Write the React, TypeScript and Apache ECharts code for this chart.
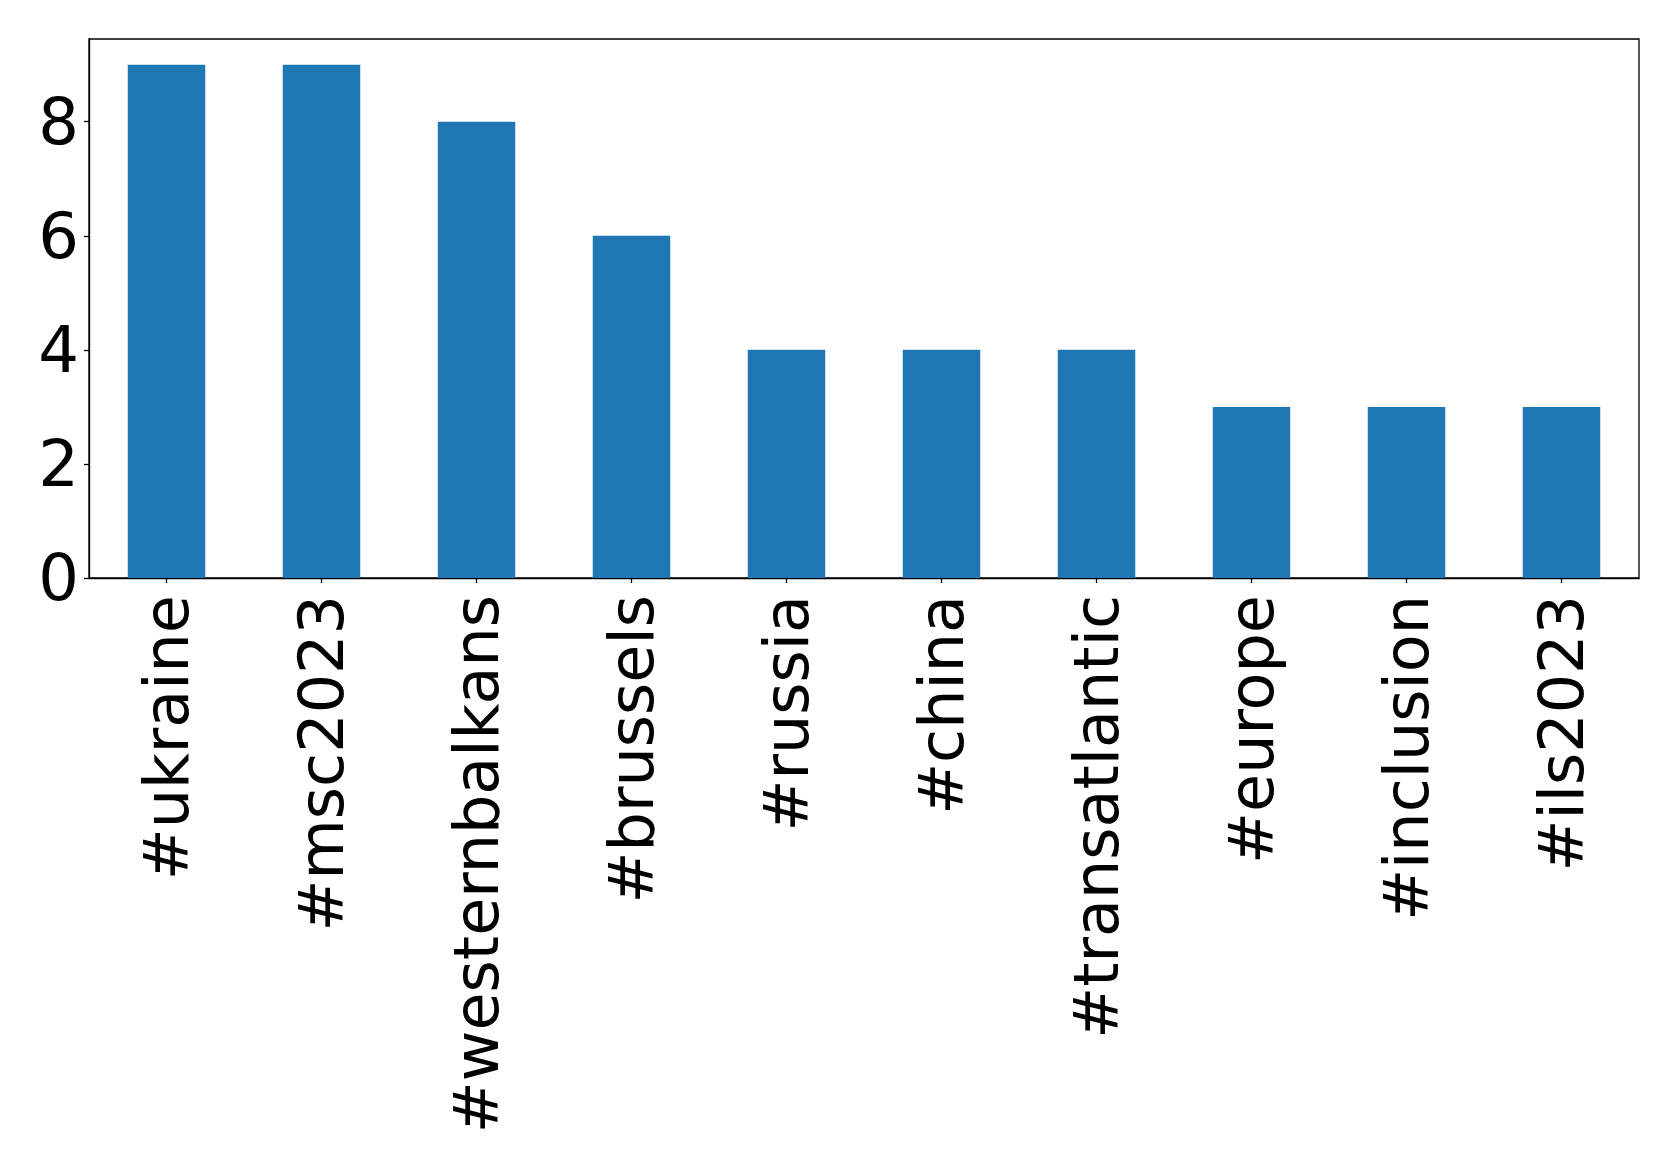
import React, { useEffect, useRef } from "react";
import * as echarts from "echarts";

const categories = [
  "#ukraine",
  "#msc2023",
  "#westernbalkans",
  "#brussels",
  "#russia",
  "#china",
  "#transatlantic",
  "#europe",
  "#inclusion",
  "#ils2023",
];
const counts = [9, 9, 8, 6, 4, 4, 4, 3, 3, 3];
const yTicks = [0, 2, 4, 6, 8];

export default function App() {
  const ref = useRef<HTMLDivElement>(null);
  useEffect(() => {
    document.body.style.margin = "0";
    if (!ref.current) return;
    const chart = echarts.init(ref.current, undefined, { renderer: "svg" });
    const font = "DejaVu Sans";
    chart.setOption({
      animation: false,
      backgroundColor: "#ffffff",
      grid: {
        left: 89,
        top: 39,
        right: 40,
        bottom: 592,
        show: true,
        borderColor: "#000000",
        borderWidth: 1.3,
        backgroundColor: "transparent",
        containLabel: false,
      },
      xAxis: {
        type: "category",
        data: categories,
        boundaryGap: true,
        axisLine: { show: true, lineStyle: { color: "#000000", width: 1.3 } },
        axisTick: {
          show: true,
          alignWithLabel: true,
          length: 5,
          lineStyle: { color: "#000000", width: 1.3 },
        },
        axisLabel: {
          rotate: 90,
          interval: 0,
          margin: 17,
          fontFamily: font,
          fontSize: 62,
          color: "#000000",
        },
        splitLine: { show: false },
      },
      yAxis: {
        type: "value",
        min: 0,
        max: 9.45,
        axisLine: { show: true, lineStyle: { color: "#000000", width: 1.3 } },
        axisTick: {
          show: true,
          length: 5,
          customValues: yTicks,
          lineStyle: { color: "#000000", width: 1.3 },
        },
        axisLabel: {
          customValues: yTicks,
          margin: 10,
          fontFamily: font,
          fontSize: 64,
          color: "#000000",
        },
        splitLine: { show: false },
      },
      series: [
        {
          type: "bar",
          data: counts,
          barWidth: "50%",
          itemStyle: { color: "#1f77b4" },
        },
      ],
    });
    return () => chart.dispose();
  }, []);
  return <div ref={ref} style={{ width: 1679, height: 1170 }} />;
}
